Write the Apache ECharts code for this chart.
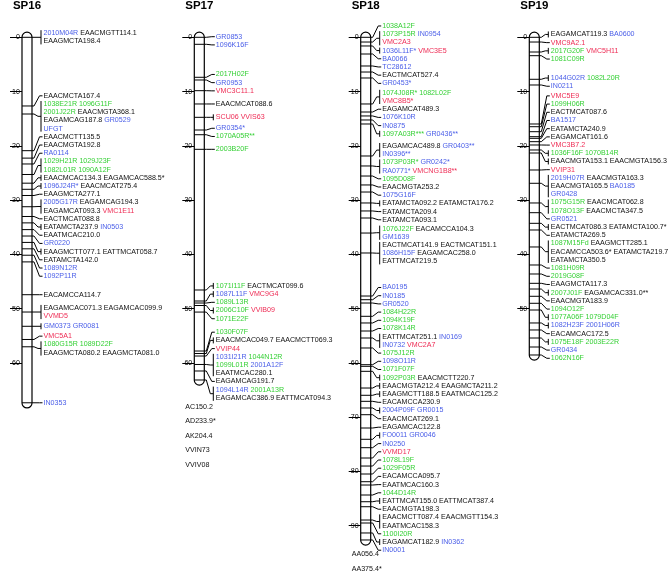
<!DOCTYPE html>
<html><head><meta charset="utf-8">
<script src="https://cdn.jsdelivr.net/npm/echarts@6/dist/echarts.min.js"></script>
<style>html,body{margin:0;padding:0;background:#fff}#c{width:670px;height:572px}</style>
</head><body><div id="c"></div>
<script>
// ---------------- DATA ----------------
const groupNames = ['SP16', 'SP17', 'SP18', 'SP19'];
// marker positions (cM) of each locus; label lines separated by " | ", markers by space
// prefix b: blue, g: green, r: red, none = black
const sp16Pos = [0, 12.66, 14.14, 20.90, 22.27, 23.35, 25.29, 26.89, 28.02, 29.16, 31.23, 33.03, 34.21, 35.45, 36.63, 37.81, 38.99, 40.17, 41.40, 47.45, 50.64, 53.27, 55.70, 57.05, 67.37];
const sp16Markers = [
  'b:2010M04R EAACMGTT114.1 | EAAGMCTA198.4',
  'EAACMCTA167.4',
  'g:1038E21R g:1096G11F | g:2001J22R EAACMGTA368.1 | EAGAMCAG187.8 b:GR0529 | b:UFGT',
  'EAACMCTT135.5',
  'EAACMGTA192.8',
  'b:RA0114',
  'g:1029H21R g:1029J23F | g:1082L01R g:1090A12F',
  'EAACMCAC134.3 EAGAMCAC588.5*',
  'b:1096J24R* EAACMCAT275.4',
  'EAAGMCTA277.1',
  'b:2005G17R EAGAMCAG194.3 | EAGAMCAT093.3 r:VMC1E11',
  'EACTMCAT088.8',
  'EATAMCTA237.9 b:IN0503',
  'EAATMCAC210.0',
  'b:GR0220',
  'EAAGMCTT077.1 EATTMCAT058.7',
  'EATAMCTA142.0',
  'b:1089N12R',
  'b:1092P11R',
  'EACAMCCA114.7',
  'EAGAMCAC071.3 EAGAMCAC099.9 | r:VVMD5',
  'b:GM0373 b:GR0081',
  'r:VMC5A1',
  'g:1080G15R g:1089D22F | EAAGMCTA080.2 EAAGMCTA081.0',
  'b:IN0353'
];
const sp17Pos = [0, 1.29, 7.37, 7.87, 9.84, 12.29, 14.75, 17.09, 17.96, 20.65, 46.58, 48.61, 48.98, 49.44, 50.65, 57.83, 58.29, 58.75, 60.31, 61.51, 63.17];
const sp17Markers = [
  'b:GR0853',
  'b:1096K16F',
  'g:2017H02F',
  'b:GR0953',
  'r:VMC3C11.1',
  'EAACMCAT088.6',
  'r:SCU06 r:VVIS63',
  'b:GR0354*',
  'g:1070A05R**',
  'g:2003B20F',
  'g:1071I11F EACTMCAT099.6',
  'b:1087L11F r:VMC9G4',
  'g:1089L13R',
  'g:2006C10F r:VVIB09',
  'g:1071E22F',
  'g:1030F07F',
  'EAACMCAC049.7 EAACMCTT069.3',
  'r:VVIP44',
  'b:1031I21R g:1044N12R | g:1099L01R b:2001A12F | EAATMCAC280.1',
  'EAGAMCAG191.7',
  'b:1094L14R g:2001A13R | EAGAMCAC386.9 EATTMCAT094.3'
];
const sp17Unlinked = ['AC150.2', 'AD233.9*', 'AK204.4', 'VVIN73', 'VVIV08'];
const sp18Pos = [0, 0.87, 1.60, 3.08, 5.29, 6.40, 7.50, 12.29, 13.77, 14.50, 15.24, 15.98, 21.88, 23.72, 25.57, 27.22, 28.52, 30.54, 32.01, 33.31, 36.08, 39.76,
  47.69, 48.37, 48.98, 51.43, 52.66, 54.14, 55.43, 57.27, 60.35, 60.65, 61.57, 64.65, 65.99, 67.10, 68.33, 69.57, 72.02, 74.10, 75.65, 77.55, 79.03, 80.50, 81.92, 82.53, 84.37, 85.61, 86.53, 88.98, 89.53, 91.37, 92.66];
const sp18Markers = [
  'g:1038A12F',
  'g:1073P15R b:IN0954 | r:VMC2A3',
  'b:1036L11F* r:VMC3E5',
  'b:BA0066',
  'b:TC28612',
  'EACTMCAT527.4',
  'b:GR0453*',
  'g:1074J08R* g:1082L02F | r:VMC8B5*',
  'EAGAMCAT489.3',
  'b:1076K10R',
  'b:IN0875',
  'g:1097A03R*** b:GR0436**',
  'EAGAMCAC489.8 b:GR0403** | b:IN0396**',
  'g:1073P03R* b:GR0242* | b:RA0771* r:VMCNG1B8**',
  'g:1095D08F',
  'EAACMGTA253.2',
  'b:1075G16F',
  'EATAMCTA092.2 EATAMCTA176.2',
  'EATAMCTA209.4',
  'EATAMCTA093.1',
  'g:1076J22F EACAMCCA104.3 | b:GM1639',
  'EACTMCAT141.9 EACTMCAT151.1 | b:1086H15F EAGAMCAC258.0 | EATTMCAT219.5',
  'b:BA0195',
  'b:IN0185',
  'b:GR0520',
  'g:1084H22R',
  'g:1094K19F',
  'g:1078K14R',
  'EATTMCAT251.1 b:IN0169 | b:IN0732 r:VMC2A7',
  'g:1075J12R',
  'b:1098O11R',
  'g:1071F07F',
  'g:1092P03R EAACMCTT220.7',
  'EAACMGTA212.4 EAAGMCTA211.2',
  'EAAGMCTT188.5 EAATMCAC125.2',
  'EACAMCCA230.9',
  'b:2004P09F b:GR0015',
  'EAACMCAT269.1',
  'EAGAMCAC122.8',
  'b:FO0011 b:GR0046',
  'b:IN0250',
  'r:VVMD17',
  'g:1078L19F',
  'g:1029F05R',
  'EACAMCCA095.7',
  'EAATMCAC160.3',
  'g:1044D14R',
  'EATTMCAT155.0 EATTMCAT387.4',
  'EAACMGTA198.3',
  'EAACMCTT087.4 EAACMGTT154.3 | EAATMCAC158.3',
  'g:1100I20R',
  'EAGAMCAT182.9 b:IN0362',
  'b:IN0001'
];
const sp18Unlinked = ['AA056.4', 'AA375.4*'];
const sp19Pos = [0, 0.87, 2.71, 3.39, 7.74, 8.79, 15.98, 16.48, 17.40, 18.32, 18.62, 19.24, 19.85, 20.77, 21.33, 24.46, 26.91, 30.54, 32.33, 34.29, 35.52, 38.65, 41.97, 43.63, 45.35, 46.40, 47.74, 49.03, 50.27, 52.66, 53.95, 55.43, 57.09, 58.56];
const sp19Markers = [
  'EAGAMCAT119.3 b:BA0600',
  'r:VMC9A2.1',
  'g:2017G20F r:VMC5H11',
  'g:1081C09R',
  'b:1044G02R g:1082L20R',
  'b:IN0211',
  'r:VMC5E9',
  'g:1099H06R',
  'EACTMCAT087.6',
  'b:BA1517',
  'EATAMCTA240.9',
  'EAGAMCAT161.6',
  'r:VMC3B7.2',
  'g:1036F16F g:1070B14R',
  'EAACMGTA153.1 EAACMGTA156.3',
  'r:VVIP31',
  'b:2019H07R EAACMGTA163.3 | EAACMGTA165.5 b:BA0185 | b:GR0428',
  'g:1075G15R EAACMCAT062.8 | g:1078O13F EAACMCTA347.5',
  'b:GR0521',
  'EACTMCAT086.3 EATAMCTA100.7*',
  'EATAMCTA269.5',
  'g:1087M15Fd EAAGMCTT285.1 | EACAMCCA503.6* EATAMCTA219.7 | EATAMCTA350.5',
  'g:1081H09R',
  'g:2019G08F',
  'EAAGMCTA117.3',
  'g:2007J01F EAGAMCAC331.0**',
  'EAACMGTA183.9',
  'g:1094O12F',
  'g:1077A06F g:1079D04F',
  'b:1082H23F b:2001H06R',
  'EACAMCAC172.5',
  'g:1075E18F g:2003E22R',
  'b:GR0434',
  'g:1062N16F'
];
const tickLabels = [
  [0, 10, 20, 30, 40, 50, 60],
  [0, 10, 20, 30, 40, 50, 60],
  [0, 10, 20, 30, 40, 50, 60, 70, 80, 90],
  [0, 10, 20, 30, 40, 50]
];

// ---------------- LAYOUT / STYLE ----------------
const FONT = '"Liberation Sans", Arial, Helvetica, sans-serif';
const Y0 = 37.3, K = 5.425, H = 572;          // px of 0 cM, px per cM, canvas height
const BAR_LEFT = [22, 194.3, 360.7, 529.3];
const BAR_W = 10;
const LINE_CM = 8.2 / K;                        // label line spacing in cM
const TEXT_GAP = 11.5;
const UNLINKED_OFF = [0, 21.5, 9, 0];
const COLORS = { k: '#111111', b: '#4a5ee8', g: '#35d035', r: '#ee2c55' };
const FS = 7.1;

const groups = [
  { pos: sp16Pos, markers: sp16Markers, unlinked: [] },
  { pos: sp17Pos, markers: sp17Markers, unlinked: sp17Unlinked },
  { pos: sp18Pos, markers: sp18Markers, unlinked: sp18Unlinked },
  { pos: sp19Pos, markers: sp19Markers, unlinked: [] }
];

function parseLocus(str) {
  const lines = str.split(' | ').map(l => l.trim().split(/\s+/).map(tok => {
    const m = tok.match(/^([bgr]):(.*)$/);
    return m ? { c: m[1], t: m[2] } : { c: 'k', t: tok };
  }));
  const count = lines.reduce((s, l) => s + l.length, 0);
  return { lines, count };
}

function calcTop(des) {
  let s = 0;
  des.forEach((d, j) => { s += d - j * LINE_CM; });
  return s / des.length;
}
function layoutLabels(pos, nLines) {
  const blocks = [];
  pos.forEach((p, i) => {
    const n = nLines[i];
    const des = [];
    for (let k = 0; k < n; k++) des.push(p + (k - (n - 1) / 2) * LINE_CM);
    blocks.push({ loci: [i], des, top: calcTop(des) });
    while (blocks.length > 1) {
      const a = blocks[blocks.length - 2], c = blocks[blocks.length - 1];
      if (a.top + a.des.length * LINE_CM > c.top + 1e-6) {
        a.loci = a.loci.concat(c.loci);
        a.des = a.des.concat(c.des);
        a.top = calcTop(a.des);
        blocks.pop();
      } else break;
    }
  });
  const tops = [];
  blocks.forEach(b => {
    let j = 0;
    b.loci.forEach(i => { tops[i] = b.top + j * LINE_CM; j += nLines[i]; });
  });
  return tops;
}

const RICH = {};
Object.keys(COLORS).forEach(c => { RICH[c] = { fill: COLORS[c], fontSize: FS, fontFamily: FONT }; });

const series = [];
groups.forEach((g, gi) => {
  const loci = g.markers.map(parseLocus);
  const tops = layoutLabels(g.pos, loci.map(l => l.lines.length));
  const first = g.pos[0], last = g.pos[g.pos.length - 1];
  // chromosome bar + unlinked markers
  series.push({
    type: 'custom', xAxisIndex: gi, yAxisIndex: gi, z: 1, silent: true,
    data: [[0, first - 0.95, last + 0.95]],
    renderItem: function (params, api) {
      const p0 = api.coord([0, api.value(1)]);
      const p1 = api.coord([1, api.value(2)]);
      const children = [{
        type: 'rect',
        shape: { x: p0[0], y: p0[1], width: p1[0] - p0[0], height: p1[1] - p0[1], r: (p1[0] - p0[0]) / 2 },
        style: { fill: '#fff', stroke: '#000', lineWidth: 1.2 }
      }];
      g.unlinked.forEach((t, k) => {
        children.push({ type: 'text', style: { text: t, x: p0[0] - 9, y: p1[1] + UNLINKED_OFF[gi] + k * 14.5, verticalAlign: 'middle', align: 'left', fill: '#111', font: FS + 'px ' + FONT } });
      });
      return { type: 'group', children };
    }
  });
  // markers
  series.push({
    type: 'custom', xAxisIndex: gi, yAxisIndex: gi, z: 2, silent: true,
    data: g.pos.map((p, i) => [0, p, tops[i], i]),
    renderItem: function (params, api) {
      const idx = api.value(3);
      const locus = loci[idx];
      const pm = api.coord([0, api.value(1)]);
      const pr = api.coord([1, api.value(1)]);
      const ym = pm[1], xl = pm[0], xr = pr[0];
      const xt = xr + TEXT_GAP;
      const children = [];
      children.push({ type: 'line', shape: { x1: xl, y1: ym, x2: xr, y2: ym }, style: { stroke: '#000', lineWidth: 1 } });
      const ys = locus.lines.map((l, k) => api.coord([0, api.value(2) + k * LINE_CM])[1]);
      if (locus.count > 1) {
        const xb = xt - 2.5;
        const ymid = (ys[0] + ys[ys.length - 1]) / 2;
        children.push({ type: 'polyline', shape: { points: [[xr, ym], [xr + 2, ym], [xb - 3, ymid], [xb, ymid]] }, style: { stroke: '#000', lineWidth: 1, fill: null } });
        children.push({ type: 'line', shape: { x1: xb, y1: ys[0] - 3, x2: xb, y2: ys[ys.length - 1] + 3 }, style: { stroke: '#000', lineWidth: 1 } });
      } else {
        children.push({ type: 'polyline', shape: { points: [[xr, ym], [xr + 2, ym], [xt - 4, ys[0]], [xt - 1, ys[0]]] }, style: { stroke: '#000', lineWidth: 1, fill: null } });
      }
      locus.lines.forEach((line, k) => {
        const txt = line.map(m => '{' + m.c + '|' + m.t + '}').join(' ');
        children.push({ type: 'text', style: { text: txt, rich: RICH, x: xt, y: ys[k], verticalAlign: 'middle', align: 'left', fill: '#111', font: FS + 'px ' + FONT } });
      });
      return { type: 'group', children };
    }
  });
});

const option = {
  animation: false,
  backgroundColor: '#fff',
  title: groupNames.map((n, i) => ({
    text: n, left: BAR_LEFT[i] + BAR_W / 2, top: 0, textAlign: 'center', padding: 0,
    textStyle: { fontSize: 11.5, fontWeight: 'bold', color: '#000', fontFamily: FONT }
  })),
  grid: groupNames.map((n, i) => ({ left: BAR_LEFT[i], width: BAR_W, top: 0, bottom: 0 })),
  xAxis: groupNames.map((n, i) => ({ type: 'value', gridIndex: i, min: 0, max: 1, show: false })),
  yAxis: groupNames.map((n, i) => ({
    type: 'value', gridIndex: i, inverse: true, min: -Y0 / K, max: (H - Y0) / K,
    axisLine: { show: false }, splitLine: { show: false },
    axisTick: { show: true, length: 12, lineStyle: { color: '#000', width: 1 }, customValues: tickLabels[i] },
    axisLabel: { show: true, margin: 2, fontSize: FS, color: '#000', fontFamily: FONT, customValues: tickLabels[i] }
  })),
  series
};
const chart = echarts.init(document.getElementById('c'), null, { renderer: 'canvas' });
chart.setOption(option);
</script>
</body></html>
